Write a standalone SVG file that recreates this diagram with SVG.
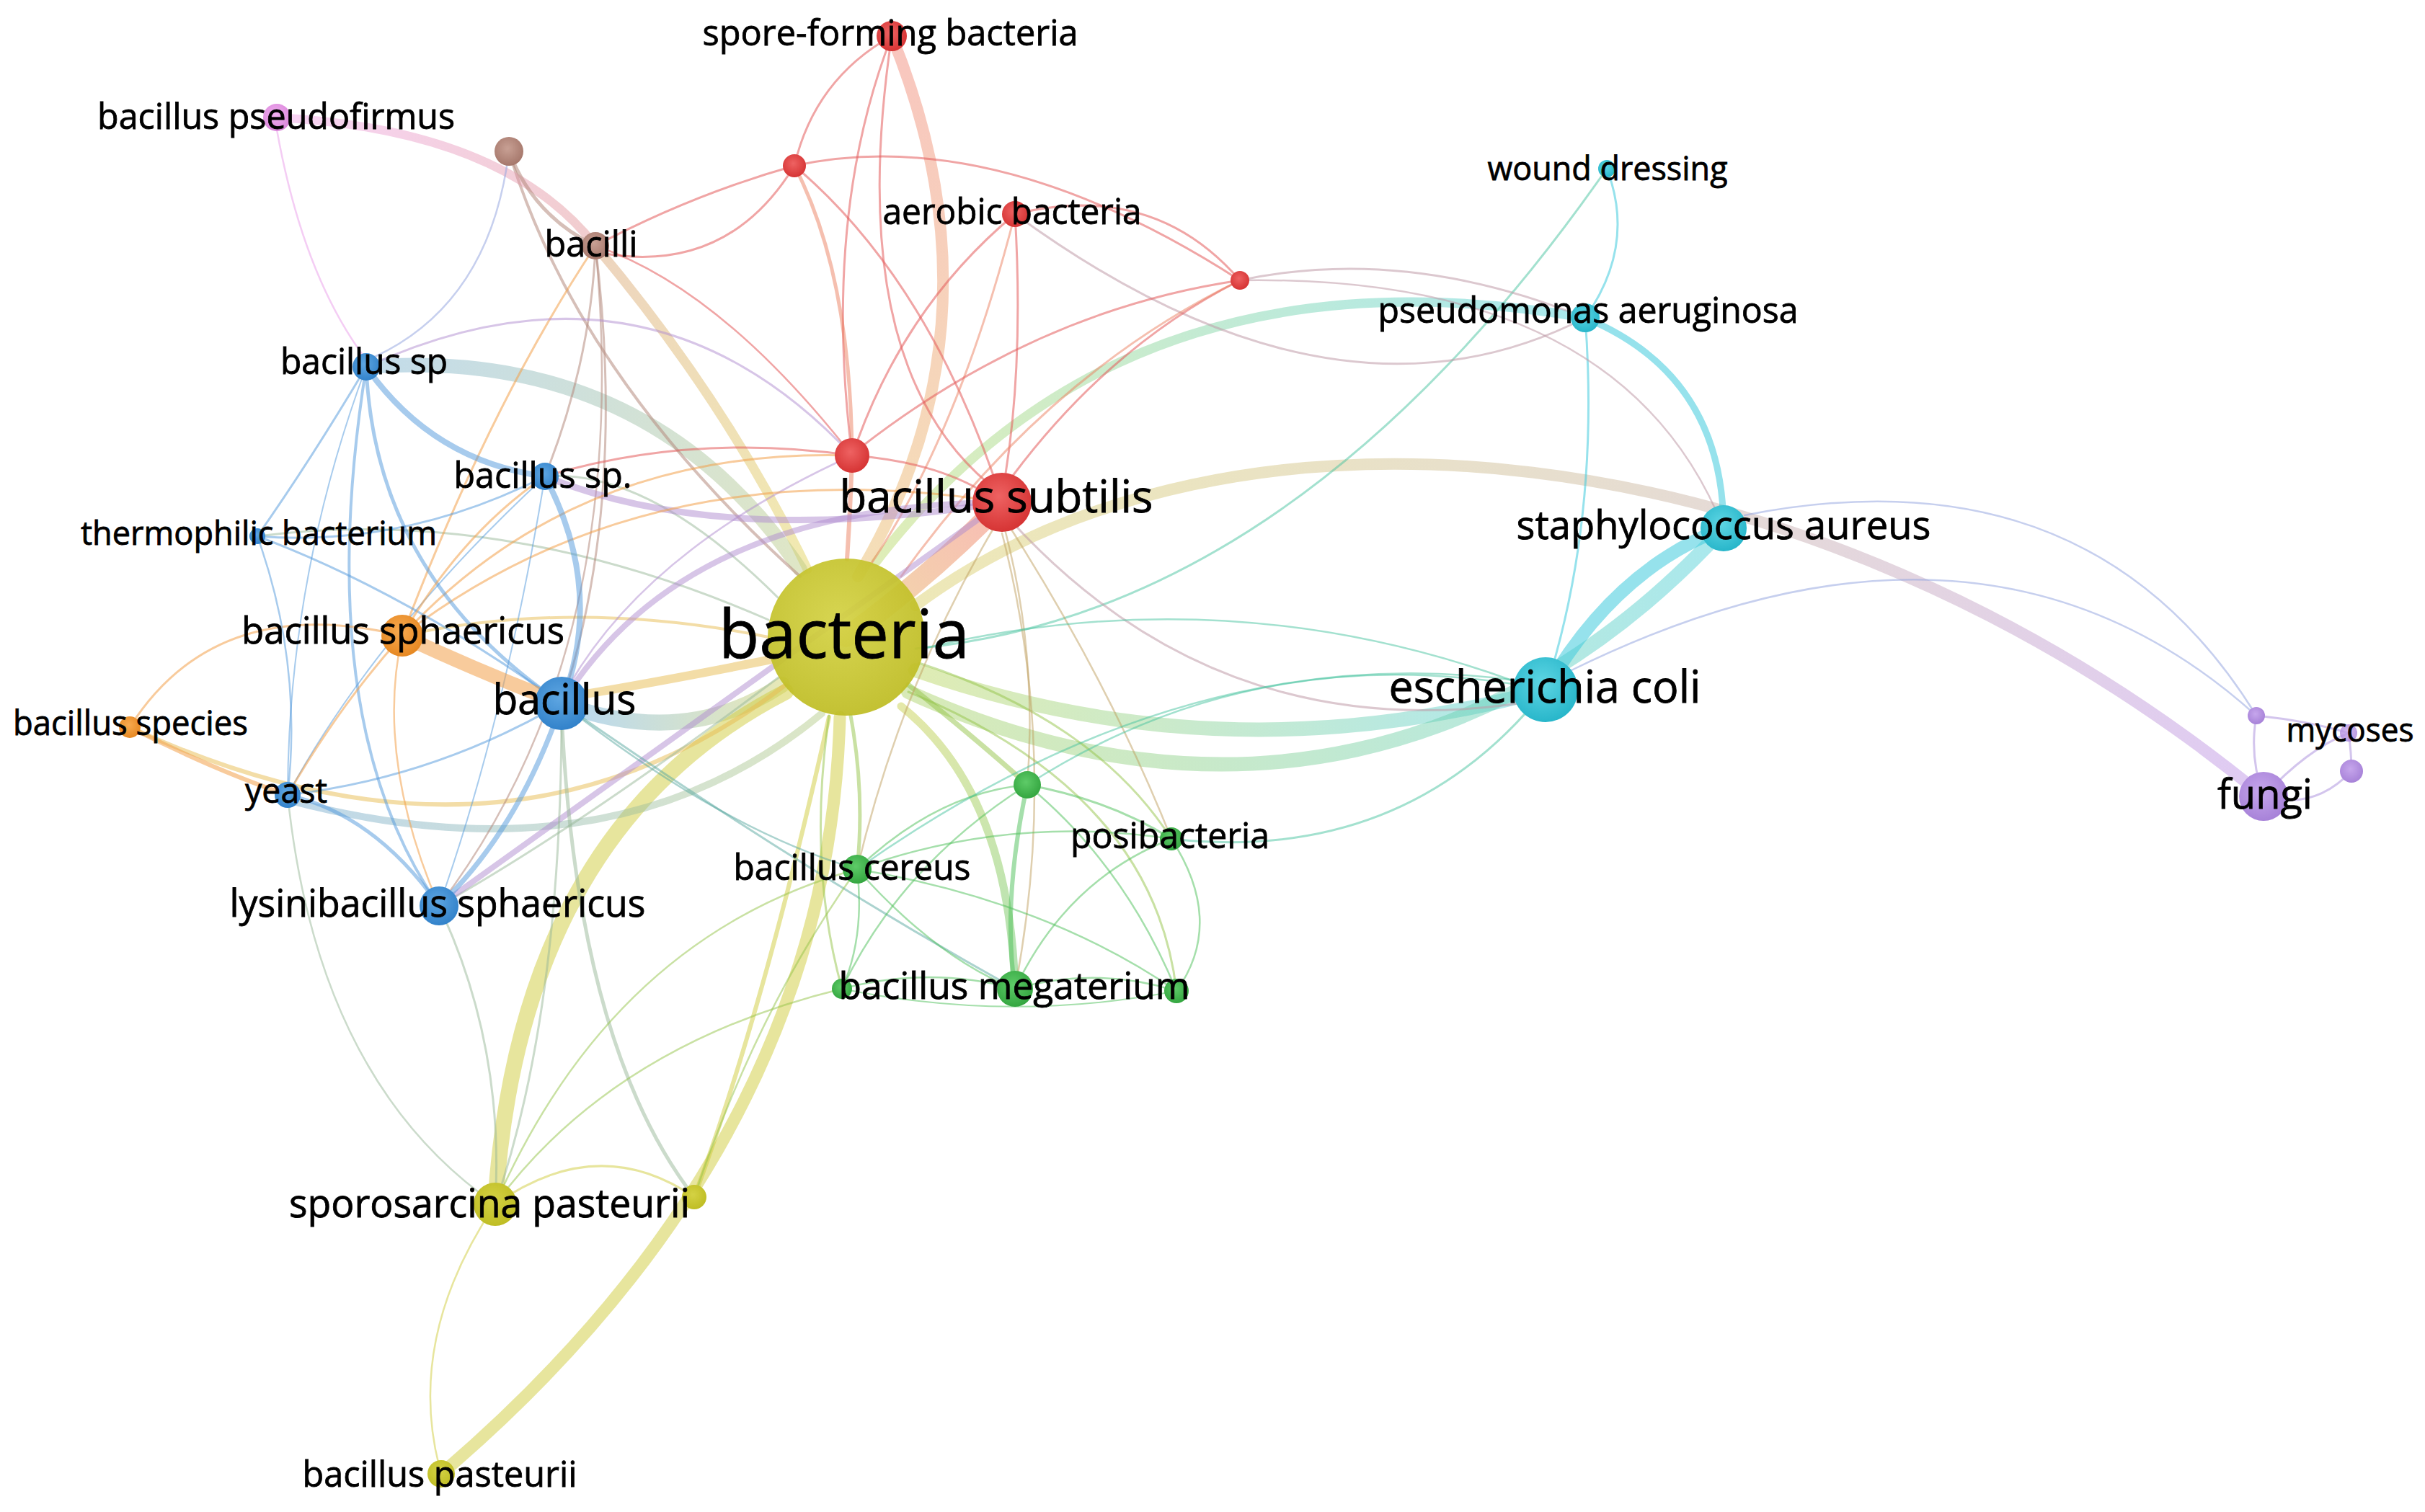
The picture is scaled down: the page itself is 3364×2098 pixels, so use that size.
<svg xmlns="http://www.w3.org/2000/svg" width="3364" height="2098" viewBox="0 0 3364 2098">
<defs>
<style>
.e{fill:none;stroke-linecap:round}
.cr{stroke:#e35b5b;stroke-opacity:.55}
.cy{stroke:#cfcc3c;stroke-opacity:.5}
.cb{stroke:#4f98dc;stroke-opacity:.5}
.cg{stroke:#4cbf58;stroke-opacity:.5}
.cc{stroke:#3fcbdc;stroke-opacity:.55}
.cp{stroke:#a78cdc;stroke-opacity:.5}
.co{stroke:#f3a04a;stroke-opacity:.55}
.cbr{stroke:#b48a7e;stroke-opacity:.55}
.cpk{stroke:#e99be9;stroke-opacity:.5}
.cro{stroke:#eb8060;stroke-opacity:.5}
.cyb{stroke:#98b898;stroke-opacity:.5}
.cyg{stroke:#94c448;stroke-opacity:.5}
.cgc{stroke:#48c4a0;stroke-opacity:.5}
.crb{stroke:#b08cd0;stroke-opacity:.5}
.cyo{stroke:#e8bc50;stroke-opacity:.5}
.cbg{stroke:#58a8a0;stroke-opacity:.5}
.cgr{stroke:#c0a060;stroke-opacity:.5}
.crc{stroke:#c09aa8;stroke-opacity:.55}
.cbp{stroke:#98a8e0;stroke-opacity:.55}
.gr{stroke-opacity:.45}
.lbl{font-family:"Open Sans","Liberation Sans",sans-serif;fill:#000;stroke:#000;stroke-width:0.8;text-anchor:middle}
</style>
<radialGradient id="nR" cx="45%" cy="40%" r="60%"><stop offset="0" stop-color="#ee6262"/><stop offset="1" stop-color="#d63434"/></radialGradient>
<radialGradient id="nY" cx="45%" cy="40%" r="60%"><stop offset="0" stop-color="#d4d244"/><stop offset="1" stop-color="#bfbd24"/></radialGradient>
<radialGradient id="nB" cx="45%" cy="40%" r="60%"><stop offset="0" stop-color="#5ea6e2"/><stop offset="1" stop-color="#3282ca"/></radialGradient>
<radialGradient id="nG" cx="45%" cy="40%" r="60%"><stop offset="0" stop-color="#5ecb68"/><stop offset="1" stop-color="#34a640"/></radialGradient>
<radialGradient id="nC" cx="45%" cy="40%" r="60%"><stop offset="0" stop-color="#5ed6e4"/><stop offset="1" stop-color="#28b6ca"/></radialGradient>
<radialGradient id="nP" cx="45%" cy="40%" r="60%"><stop offset="0" stop-color="#c6a6ec"/><stop offset="1" stop-color="#a782d8"/></radialGradient>
<radialGradient id="nO" cx="45%" cy="40%" r="60%"><stop offset="0" stop-color="#f8aa50"/><stop offset="1" stop-color="#e68822"/></radialGradient>
<radialGradient id="nBr" cx="45%" cy="40%" r="60%"><stop offset="0" stop-color="#c8a094"/><stop offset="1" stop-color="#a6786c"/></radialGradient>
<radialGradient id="nPk" cx="45%" cy="40%" r="60%"><stop offset="0" stop-color="#f2b0f2"/><stop offset="1" stop-color="#da86da"/></radialGradient>
<linearGradient id="gBS" gradientUnits="userSpaceOnUse" x1="1174" y1="884" x2="1390" y2="697"><stop offset="0" stop-color="#e0b040"/><stop offset="1" stop-color="#f06a5a"/></linearGradient>
<linearGradient id="gSp" gradientUnits="userSpaceOnUse" x1="1190" y1="800" x2="1237" y2="50"><stop offset="0" stop-color="#e8b860"/><stop offset="1" stop-color="#f08070"/></linearGradient>
<linearGradient id="gYP" gradientUnits="userSpaceOnUse" x1="1270" y1="840" x2="3140" y2="1105"><stop offset="0" stop-color="#d8cc60"/><stop offset=".5" stop-color="#c8b498"/><stop offset="1" stop-color="#b88ae6"/></linearGradient>
<linearGradient id="gYC1" gradientUnits="userSpaceOnUse" x1="1215" y1="780" x2="2199" y2="441"><stop offset="0" stop-color="#b8d860"/><stop offset="1" stop-color="#40ccd8"/></linearGradient>
<linearGradient id="gYC2" gradientUnits="userSpaceOnUse" x1="1270" y1="930" x2="2144" y2="957"><stop offset="0" stop-color="#b8d458"/><stop offset="1" stop-color="#48ccd8"/></linearGradient>
<linearGradient id="gYC3" gradientUnits="userSpaceOnUse" x1="1260" y1="960" x2="2391" y2="733"><stop offset="0" stop-color="#a8d060"/><stop offset="1" stop-color="#40ccd8"/></linearGradient>
<linearGradient id="gYB1" gradientUnits="userSpaceOnUse" x1="1085" y1="950" x2="779" y2="976"><stop offset="0" stop-color="#c8cc60"/><stop offset="1" stop-color="#60a8e0"/></linearGradient>
<linearGradient id="gYB2" gradientUnits="userSpaceOnUse" x1="1110" y1="790" x2="508" y2="509"><stop offset="0" stop-color="#b8c880"/><stop offset="1" stop-color="#78b0d0"/></linearGradient>
<linearGradient id="gYBr" gradientUnits="userSpaceOnUse" x1="1120" y1="790" x2="826" y2="341"><stop offset="0" stop-color="#e0d050"/><stop offset="1" stop-color="#d8a070"/></linearGradient>
<linearGradient id="gYG" gradientUnits="userSpaceOnUse" x1="1250" y1="980" x2="1408" y2="1372"><stop offset="0" stop-color="#c4cc40"/><stop offset="1" stop-color="#50c058"/></linearGradient>
<linearGradient id="gPk" gradientUnits="userSpaceOnUse" x1="384" y1="163" x2="826" y2="341"><stop offset="0" stop-color="#ee9ee8"/><stop offset="1" stop-color="#e09090"/></linearGradient>
<linearGradient id="gYBy" gradientUnits="userSpaceOnUse" x1="1140" y1="990" x2="399" y2="1110"><stop offset="0" stop-color="#b0c880"/><stop offset="1" stop-color="#70a8d0"/></linearGradient>
</defs>
<rect width="3364" height="2098" fill="#ffffff"/>
<g id="connectors">
<path class="e gr" stroke="url(#gYP)" stroke-width="16" d="M1270,840 C1700,520 2500,580 3140,1105"/>
<path class="e gr" stroke="url(#gYC1)" stroke-width="13" d="M1215,780 Q1560,330 2199,441"/>
<path class="e gr" stroke="url(#gYC2)" stroke-width="20" d="M1270,930 Q1700,1080 2144,957"/>
<path class="e gr" stroke="url(#gYC3)" stroke-width="20" d="M1260,960 C1700,1160 2100,1050 2391,733"/>
<path class="e cc" stroke-width="18" d="M2144,957 Q2240,790 2391,733"/>
<path class="e cc" stroke-width="9" d="M2199,441 Q2390,520 2391,733"/>
<path class="e cc" stroke-width="3" d="M2199,441 Q2220,720 2144,957"/>
<path class="e cc" stroke-width="3" d="M2229,234 Q2270,340 2199,441"/>
<path class="e cgc" stroke-width="3" d="M2229,234 Q1800,850 1270,900"/>
<path class="e gr" stroke="url(#gBS)" stroke-width="28" d="M1174,884 Q1290,800 1390,697"/>
<path class="e gr" stroke="url(#gSp)" stroke-width="16" d="M1237,50 Q1400,450 1190,800"/>
<path class="e gr" stroke="url(#gYBr)" stroke-width="13" d="M1120,790 Q1010,560 826,341"/>
<path class="e gr" stroke="url(#gYB2)" stroke-width="20" d="M1110,790 Q900,480 508,509"/>
<path class="e gr" stroke="url(#gYB1)" stroke-width="22" d="M1085,950 Q950,1040 779,976"/>
<path class="e cyo" stroke-width="12" d="M1070,915 Q920,945 800,965"/>
<path class="e cy" stroke-width="22" d="M1090,960 Q720,1150 687,1671"/>
<path class="e cy" stroke-width="17" d="M1165,995 Q1150,1585 612,2045"/>
<path class="e cy" stroke-width="6" d="M1150,995 Q1060,1400 963,1661"/>
<path class="e gr" stroke="url(#gYBy)" stroke-width="10" d="M399,1110 Q850,1230 1140,990"/>
<path class="e cyo" stroke-width="6" d="M180,1009 Q700,1250 1090,950"/>
<path class="e gr" stroke="url(#gYG)" stroke-width="11" d="M1250,980 Q1400,1100 1408,1372"/>
<path class="e cyg" stroke-width="5" d="M1180,993 Q1200,1100 1189,1206"/>
<path class="e cyg" stroke-width="7" d="M1260,950 Q1360,1030 1425,1089"/>
<path class="e cyg" stroke-width="3" d="M1275,920 Q1520,1000 1625,1164"/>
<path class="e cyg" stroke-width="3" d="M1150,993 Q1120,1200 1168,1372"/>
<path class="e cyg" stroke-width="3" d="M1260,960 Q1600,1100 1632,1375"/>
<path class="e cyb" stroke-width="3" d="M1080,940 Q800,1150 609,1257"/>
<path class="e cyb" stroke-width="3" d="M1066,860 Q700,700 357,744"/>
<path class="e cyo" stroke-width="4" d="M1066,884 Q800,830 558,882"/>
<path class="e cbr" stroke-width="4" d="M1110,800 Q800,520 706,210"/>
<path class="e cyb" stroke-width="3" d="M1080,830 Q900,650 756,661"/>
<path class="e gr" stroke="url(#gPk)" stroke-width="12" d="M384,163 Q700,180 826,341"/>
<path class="e cbr" stroke-width="5" d="M706,210 Q740,300 826,341"/>
<path class="e cbp" stroke-width="2.5" d="M706,210 Q680,420 520,495"/>
<path class="e cpk" stroke-width="2.5" d="M384,180 Q420,380 505,495"/>
<path class="e co" stroke-width="3" d="M826,341 Q680,560 558,882"/>
<path class="e cbr" stroke-width="3" d="M826,341 Q820,500 756,661"/>
<path class="e cbr" stroke-width="3" d="M826,341 Q870,700 779,976"/>
<path class="e cbr" stroke-width="2.5" d="M826,341 Q880,900 609,1257"/>
<path class="e cr" stroke-width="3" d="M826,341 Q960,270 1102,230"/>
<path class="e cr" stroke-width="3" d="M840,352 Q1010,380 1102,230"/>
<path class="e cr" stroke-width="3" d="M1237,50 Q1130,110 1102,230"/>
<path class="e cr" stroke-width="3" d="M1237,50 Q1140,300 1182,632"/>
<path class="e cr" stroke-width="3" d="M1237,50 Q1170,500 1370,670"/>
<path class="e cr" stroke-width="3" d="M1102,230 Q1380,170 1720,389"/>
<path class="e cro" stroke-width="5" d="M1102,230 Q1180,380 1182,632"/>
<path class="e cr" stroke-width="3" d="M1102,230 Q1280,380 1380,665"/>
<path class="e cr" stroke-width="3" d="M1408,297 Q1420,500 1395,657"/>
<path class="e cr" stroke-width="3" d="M1408,297 Q1260,420 1190,610"/>
<path class="e cro" stroke-width="3" d="M1408,297 Q1330,600 1210,780"/>
<path class="e cr" stroke-width="3" d="M1408,297 Q1600,250 1720,389"/>
<path class="e crc" stroke-width="3" d="M1408,297 Q1850,620 2199,441"/>
<path class="e cr" stroke-width="3" d="M1720,389 Q1540,480 1405,660"/>
<path class="e cr" stroke-width="3" d="M1720,389 Q1440,430 1195,620"/>
<path class="e cro" stroke-width="3" d="M1720,389 Q1450,520 1250,800"/>
<path class="e crc" stroke-width="3" d="M1720,389 Q1950,340 2199,441"/>
<path class="e crc" stroke-width="2.5" d="M1720,389 Q2250,380 2391,733"/>
<path class="e cro" stroke-width="6" d="M1182,632 Q1180,700 1175,776"/>
<path class="e cr" stroke-width="3" d="M1182,632 Q1290,640 1360,680"/>
<path class="e cr" stroke-width="3" d="M1182,632 Q960,600 756,661"/>
<path class="e crb" stroke-width="3" d="M508,509 Q900,330 1182,632"/>
<path class="e crb" stroke-width="2.5" d="M1182,632 Q900,760 790,950"/>
<path class="e cr" stroke-width="2.5" d="M1182,632 Q1000,400 826,341"/>
<path class="e crb" stroke-width="9" d="M756,661 Q1000,760 1390,697"/>
<path class="e crb" stroke-width="8" d="M779,976 Q950,700 1390,697"/>
<path class="e crb" stroke-width="8" d="M609,1257 Q900,1050 1390,697"/>
<path class="e crc" stroke-width="3" d="M1400,720 Q1700,1050 2144,970"/>
<path class="e cgr" stroke-width="2.5" d="M1390,720 Q1440,900 1425,1089"/>
<path class="e cgr" stroke-width="2.5" d="M1400,730 Q1540,950 1625,1164"/>
<path class="e cgr" stroke-width="2.5" d="M1390,740 Q1470,1050 1408,1372"/>
<path class="e cgr" stroke-width="2.5" d="M1380,730 Q1250,950 1189,1206"/>
<path class="e co" stroke-width="3" d="M558,882 Q800,620 1182,632"/>
<path class="e co" stroke-width="3" d="M558,882 Q900,620 1390,697"/>
<path class="e cb" stroke-width="8" d="M508,509 Q600,640 756,661"/>
<path class="e cb" stroke-width="5" d="M508,509 Q520,800 779,976"/>
<path class="e cb" stroke-width="3" d="M508,509 Q430,640 357,744"/>
<path class="e cb" stroke-width="4" d="M508,509 Q430,1000 609,1257"/>
<path class="e cb" stroke-width="2" d="M508,509 Q400,800 399,1103"/>
<path class="e cb" stroke-width="8" d="M756,661 Q840,820 779,976"/>
<path class="e cb" stroke-width="3" d="M756,661 Q560,760 357,744"/>
<path class="e cb" stroke-width="2" d="M756,661 Q700,1000 609,1257"/>
<path class="e cb" stroke-width="2" d="M756,661 Q520,880 399,1103"/>
<path class="e cb" stroke-width="7" d="M779,976 Q720,1150 609,1257"/>
<path class="e cb" stroke-width="3" d="M779,976 Q600,1080 399,1103"/>
<path class="e cb" stroke-width="3" d="M779,976 Q560,820 357,744"/>
<path class="e co" stroke-width="20" d="M558,882 Q660,930 779,976"/>
<path class="e cbg" stroke-width="3" d="M779,976 Q1100,1200 1408,1372"/>
<path class="e cbg" stroke-width="2.5" d="M779,976 Q1000,1150 1189,1206"/>
<path class="e cyb" stroke-width="3" d="M779,976 Q780,1400 687,1671"/>
<path class="e cyb" stroke-width="5" d="M779,990 Q800,1450 963,1661"/>
<path class="e cb" stroke-width="5" d="M399,1103 Q520,1130 609,1257"/>
<path class="e cyb" stroke-width="3" d="M609,1257 Q700,1450 687,1671"/>
<path class="e co" stroke-width="2.5" d="M609,1257 Q520,1050 558,882"/>
<path class="e co" stroke-width="6" d="M180,1009 Q300,1070 399,1103"/>
<path class="e co" stroke-width="3" d="M180,1009 Q300,820 558,882"/>
<path class="e co" stroke-width="3" d="M558,882 Q470,980 399,1103"/>
<path class="e co" stroke-width="3" d="M558,882 Q640,740 756,661"/>
<path class="e cb" stroke-width="2.5" d="M357,744 Q420,920 399,1103"/>
<path class="e cyb" stroke-width="2.5" d="M399,1103 Q440,1500 687,1671"/>
<path class="e cy" stroke-width="3" d="M687,1671 Q830,1570 963,1661"/>
<path class="e cy" stroke-width="2.5" d="M687,1671 Q560,1860 612,2045"/>
<path class="e cyg" stroke-width="2.5" d="M1189,1206 Q850,1300 687,1671"/>
<path class="e cyg" stroke-width="2.5" d="M1168,1372 Q850,1450 687,1671"/>
<path class="e cyg" stroke-width="2.5" d="M963,1661 Q1050,1400 1189,1206"/>
<path class="e cg" stroke-width="2.5" d="M1189,1206 Q1300,1330 1408,1372"/>
<path class="e cg" stroke-width="2.5" d="M1189,1206 Q1200,1300 1168,1372"/>
<path class="e cg" stroke-width="2.5" d="M1189,1206 Q1300,1100 1425,1089"/>
<path class="e cg" stroke-width="2.5" d="M1189,1206 Q1450,1250 1632,1375"/>
<path class="e cg" stroke-width="2.5" d="M1189,1206 Q1400,1130 1625,1164"/>
<path class="e cg" stroke-width="6" d="M1425,1089 Q1390,1250 1408,1372"/>
<path class="e cg" stroke-width="3" d="M1425,1089 Q1540,1110 1625,1164"/>
<path class="e cg" stroke-width="2.5" d="M1425,1089 Q1560,1200 1632,1375"/>
<path class="e cg" stroke-width="2.5" d="M1425,1089 Q1250,1200 1168,1372"/>
<path class="e cg" stroke-width="2.5" d="M1168,1372 Q1290,1340 1408,1372"/>
<path class="e cg" stroke-width="2.5" d="M1408,1372 Q1520,1340 1632,1375"/>
<path class="e cg" stroke-width="2.5" d="M1625,1164 Q1700,1280 1632,1375"/>
<path class="e cg" stroke-width="2.5" d="M1625,1164 Q1480,1220 1408,1372"/>
<path class="e cg" stroke-width="2" d="M1168,1372 Q1400,1420 1632,1375"/>
<path class="e cgc" stroke-width="2.5" d="M1425,1089 Q1750,880 2144,957"/>
<path class="e cgc" stroke-width="2.5" d="M1189,1206 Q1650,880 2110,945"/>
<path class="e cgc" stroke-width="3" d="M1625,1164 Q1950,1200 2144,957"/>
<path class="e cgc" stroke-width="2.5" d="M1280,900 Q1700,800 2100,945"/>
<path class="e cbp" stroke-width="2.5" d="M2420,715 Q2900,620 3130,993"/>
<path class="e cbp" stroke-width="2.5" d="M2180,930 Q2750,650 3130,993"/>
<path class="e cp" stroke-width="3" d="M3140,1105 Q3120,1050 3130,993"/>
<path class="e cp" stroke-width="3" d="M3140,1105 Q3200,1040 3258,1017"/>
<path class="e cp" stroke-width="3" d="M3140,1105 Q3210,1125 3262,1070"/>
<path class="e cp" stroke-width="3" d="M3130,993 Q3200,1000 3258,1017"/>
<path class="e cp" stroke-width="3" d="M3258,1017 Q3262,1045 3262,1070"/>
</g>
<g id="node-unlabeled-1"><circle cx="1102" cy="230" r="16" fill="url(#nR)"/></g>
<g id="node-unlabeled-2"><circle cx="1720" cy="389" r="13" fill="url(#nR)"/></g>
<g id="node-unlabeled-3"><circle cx="1182" cy="632" r="24" fill="url(#nR)"/></g>
<g id="node-unlabeled-4"><circle cx="706" cy="210" r="20" fill="url(#nBr)"/></g>
<g id="node-unlabeled-5"><circle cx="1425" cy="1089" r="19" fill="url(#nG)"/></g>
<g id="node-unlabeled-6"><circle cx="1168" cy="1372" r="14" fill="url(#nG)"/></g>
<g id="node-unlabeled-7"><circle cx="1632" cy="1375" r="17" fill="url(#nG)"/></g>
<g id="node-unlabeled-8"><circle cx="963" cy="1661" r="17" fill="url(#nY)"/></g>
<g id="node-unlabeled-9"><circle cx="3130" cy="993" r="12" fill="url(#nP)"/></g>
<g id="node-unlabeled-10"><circle cx="3262" cy="1070" r="16" fill="url(#nP)"/></g>
<g id="node-bacteria"><circle cx="1174" cy="884" r="109" fill="url(#nY)" fill-opacity="0.93"/><text class="lbl" x="1171" y="913" font-size="94" textLength="348" lengthAdjust="spacingAndGlyphs">bacteria</text></g>
<g id="node-bacillus-subtilis"><circle cx="1390" cy="697" r="41" fill="url(#nR)"/><text class="lbl" x="1382" y="711" font-size="62" textLength="435" lengthAdjust="spacingAndGlyphs">bacillus subtilis</text></g>
<g id="node-spore-forming-bacteria"><circle cx="1237" cy="50" r="21" fill="url(#nR)"/><text class="lbl" x="1235" y="63" font-size="49" textLength="521" lengthAdjust="spacingAndGlyphs">spore-forming bacteria</text></g>
<g id="node-aerobic-bacteria"><circle cx="1408" cy="297" r="18" fill="url(#nR)"/><text class="lbl" x="1404" y="311" font-size="49" textLength="359" lengthAdjust="spacingAndGlyphs">aerobic bacteria</text></g>
<g id="node-bacillus-pseudofirmus"><circle cx="384" cy="163" r="19" fill="url(#nPk)"/><text class="lbl" x="383" y="179" font-size="49" textLength="496" lengthAdjust="spacingAndGlyphs">bacillus pseudofirmus</text></g>
<g id="node-bacilli"><circle cx="826" cy="341" r="19" fill="url(#nBr)"/><text class="lbl" x="820" y="356" font-size="49" textLength="129" lengthAdjust="spacingAndGlyphs">bacilli</text></g>
<g id="node-bacillus-sp"><circle cx="508" cy="509" r="19" fill="url(#nB)"/><text class="lbl" x="505" y="519" font-size="49" textLength="232" lengthAdjust="spacingAndGlyphs">bacillus sp</text></g>
<g id="node-bacillus-sp-dot"><circle cx="756" cy="661" r="19" fill="url(#nB)"/><text class="lbl" x="753" y="677" font-size="49" textLength="247" lengthAdjust="spacingAndGlyphs">bacillus sp.</text></g>
<g id="node-thermophilic-bacterium"><circle cx="357" cy="744" r="11" fill="url(#nB)"/><text class="lbl" x="359" y="756" font-size="46" textLength="494" lengthAdjust="spacingAndGlyphs">thermophilic bacterium</text></g>
<g id="node-bacillus-sphaericus"><circle cx="558" cy="882" r="29" fill="url(#nO)"/><text class="lbl" x="559" y="893" font-size="52" textLength="448" lengthAdjust="spacingAndGlyphs">bacillus sphaericus</text></g>
<g id="node-bacillus-species"><circle cx="180" cy="1009" r="15" fill="url(#nO)"/><text class="lbl" x="181" y="1020" font-size="47" textLength="326" lengthAdjust="spacingAndGlyphs">bacillus species</text></g>
<g id="node-bacillus"><circle cx="779" cy="976" r="37" fill="url(#nB)"/><text class="lbl" x="783" y="991" font-size="58" textLength="199" lengthAdjust="spacingAndGlyphs">bacillus</text></g>
<g id="node-yeast"><circle cx="399" cy="1103" r="18" fill="url(#nB)"/><text class="lbl" x="397" y="1114" font-size="48" textLength="114" lengthAdjust="spacingAndGlyphs">yeast</text></g>
<g id="node-lysinibacillus-sphaericus"><circle cx="609" cy="1257" r="27" fill="url(#nB)"/><text class="lbl" x="607" y="1272" font-size="53" textLength="577" lengthAdjust="spacingAndGlyphs">lysinibacillus sphaericus</text></g>
<g id="node-sporosarcina-pasteurii"><circle cx="687" cy="1671" r="30" fill="url(#nY)"/><text class="lbl" x="679" y="1689" font-size="54" textLength="556" lengthAdjust="spacingAndGlyphs">sporosarcina pasteurii</text></g>
<g id="node-bacillus-pasteurii"><circle cx="612" cy="2045" r="19" fill="url(#nY)"/><text class="lbl" x="610" y="2063" font-size="50" textLength="381" lengthAdjust="spacingAndGlyphs">bacillus pasteurii</text></g>
<g id="node-bacillus-cereus"><circle cx="1189" cy="1206" r="20" fill="url(#nG)"/><text class="lbl" x="1182" y="1221" font-size="49" textLength="329" lengthAdjust="spacingAndGlyphs">bacillus cereus</text></g>
<g id="node-posibacteria"><circle cx="1625" cy="1164" r="16" fill="url(#nG)"/><text class="lbl" x="1623" y="1177" font-size="49" textLength="276" lengthAdjust="spacingAndGlyphs">posibacteria</text></g>
<g id="node-bacillus-megaterium"><circle cx="1408" cy="1372" r="25" fill="url(#nG)"/><text class="lbl" x="1407" y="1386" font-size="52" textLength="487" lengthAdjust="spacingAndGlyphs">bacillus megaterium</text></g>
<g id="node-wound-dressing"><circle cx="2229" cy="234" r="12" fill="url(#nC)"/><text class="lbl" x="2230" y="250" font-size="46" textLength="333" lengthAdjust="spacingAndGlyphs">wound dressing</text></g>
<g id="node-pseudomonas-aeruginosa"><circle cx="2199" cy="441" r="20" fill="url(#nC)"/><text class="lbl" x="2203" y="448" font-size="49" textLength="583" lengthAdjust="spacingAndGlyphs">pseudomonas aeruginosa</text></g>
<g id="node-staphylococcus-aureus"><circle cx="2391" cy="733" r="32" fill="url(#nC)"/><text class="lbl" x="2391" y="748" font-size="55" textLength="575" lengthAdjust="spacingAndGlyphs">staphylococcus aureus</text></g>
<g id="node-escherichia-coli"><circle cx="2144" cy="957" r="45" fill="url(#nC)"/><text class="lbl" x="2143" y="975" font-size="62" textLength="433" lengthAdjust="spacingAndGlyphs">escherichia coli</text></g>
<g id="node-mycoses"><circle cx="3258" cy="1017" r="12" fill="url(#nP)" fill-opacity="0.8"/><text class="lbl" x="3260" y="1029" font-size="45" textLength="177" lengthAdjust="spacingAndGlyphs">mycoses</text></g>
<g id="node-fungi"><circle cx="3140" cy="1105" r="34" fill="url(#nP)"/><text class="lbl" x="3142" y="1122" font-size="57" textLength="132" lengthAdjust="spacingAndGlyphs">fungi</text></g>
</svg>
